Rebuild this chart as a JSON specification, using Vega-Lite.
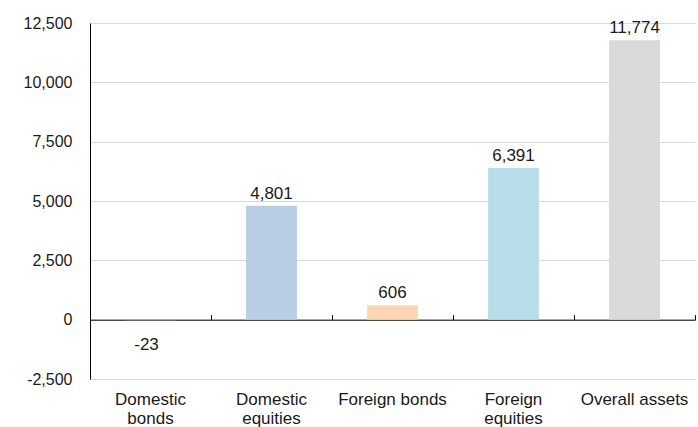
{
  "$schema": "https://vega.github.io/schema/vega-lite/v6.json",
  "width": 605,
  "height": 356,
  "autosize": {"type": "none"},
  "padding": {"left": 90, "top": 23, "right": 3, "bottom": 48},
  "background": "#ffffff",
  "config": {
    "view": {"stroke": null},
    "font": "Liberation Sans",
    "axis": {"labelFont": "Liberation Sans", "labelFontSize": 17, "labelColor": "#1a1a1a"}
  },
  "data": {
    "values": [
      {"cat": "Domestic bonds", "value": -23},
      {"cat": "Domestic equities", "value": 4801},
      {"cat": "Foreign bonds", "value": 606},
      {"cat": "Foreign equities", "value": 6391},
      {"cat": "Overall assets", "value": 11774}
    ]
  },
  "transform": [
    {"calculate": "replace(format(datum.value, ','), '\u2212', '-')", "as": "label"}
  ],
  "resolve": {"axis": {"x": "independent"}},
  "layer": [
    {
      "mark": {"type": "bar", "width": {"band": 0.42}},
      "encoding": {
        "x": {
          "field": "cat", "type": "nominal", "sort": null,
          "scale": {"paddingInner": 0, "paddingOuter": 0},
          "axis": {
            "orient": "bottom", "title": null, "domain": false, "ticks": false,
            "labelAngle": 0, "labelPadding": 12, "labelLineHeight": 19, "labelBaseline": "top",
            "labelExpr": "datum.value == 'Domestic bonds' ? ['Domestic','bonds'] : datum.value == 'Domestic equities' ? ['Domestic','equities'] : datum.value == 'Foreign equities' ? ['Foreign','equities'] : datum.value"
          }
        },
        "y": {
          "field": "value", "type": "quantitative",
          "scale": {"domain": [-2500, 12500], "nice": false, "zero": false},
          "axis": {
            "title": null, "values": [-2500, 0, 2500, 5000, 7500, 10000, 12500],
            "labelExpr": "replace(format(datum.value, ',.0f'), '\u2212', '-')",
            "labelFontSize": 16,
            "ticks": false, "labelPadding": 18,
            "domain": true, "domainColor": "#000000", "domainWidth": 1,
            "grid": true, "gridColor": "#d9d9d9", "gridWidth": 1
          }
        },
        "color": {
          "field": "cat", "type": "nominal", "sort": null, "legend": null,
          "scale": {"range": ["#95B3D7", "#B9CDE5", "#FCD5B5", "#B7DEE8", "#D9D9D9"]}
        }
      }
    },
    {
      "transform": [{"filter": "datum.value >= 0"}],
      "mark": {"type": "text", "baseline": "alphabetic", "dy": -7, "fontSize": 17, "color": "#1a1a1a", "font": "Liberation Sans"},
      "encoding": {
        "x": {"field": "cat", "type": "nominal", "sort": null, "axis": null},
        "y": {"field": "value", "type": "quantitative"},
        "text": {"field": "label", "type": "nominal"}
      }
    },
    {
      "transform": [{"filter": "datum.value < 0"}],
      "mark": {"type": "text", "baseline": "alphabetic", "dy": 30, "dx": -4, "fontSize": 17, "color": "#1a1a1a", "font": "Liberation Sans"},
      "encoding": {
        "x": {
          "field": "cat", "type": "nominal", "sort": null,
          "axis": {
            "orient": "top", "offset": -296.67, "labels": false, "title": null,
            "domain": true, "domainColor": "#000000", "domainWidth": 1,
            "ticks": true, "tickBand": "extent", "tickColor": "#000000", "tickSize": 5, "tickWidth": 1
          }
        },
        "y": {"field": "value", "type": "quantitative"},
        "text": {"field": "label", "type": "nominal"}
      }
    }
  ]
}
